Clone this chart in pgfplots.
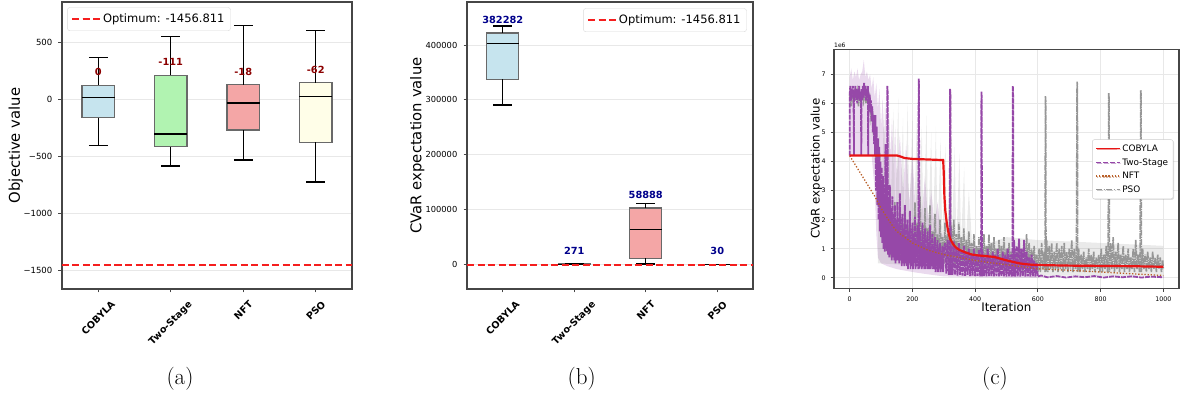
\documentclass[border=0pt]{standalone}
\usepackage{fontspec}
\usepackage{graphicx}
\usepackage{pgfplots}
\pgfplotsset{compat=1.18}
\usetikzlibrary{shadows}
\newfontfamily\dv{DejaVu Sans}

\definecolor{axcol}{RGB}{70,70,70}
\definecolor{gridc}{RGB}{232,232,232}
\definecolor{boxedge}{RGB}{105,105,105}
\definecolor{cblue}{RGB}{198,228,238}
\definecolor{cgreen}{RGB}{177,243,177}
\definecolor{ccoral}{RGB}{244,166,166}
\definecolor{cyellow}{RGB}{255,254,232}
\definecolor{optred}{RGB}{245,30,30}
\definecolor{dred}{RGB}{139,0,0}
\definecolor{dblue}{RGB}{0,0,139}
\definecolor{tsp}{RGB}{150,72,168}
\definecolor{nftc}{RGB}{185,95,40}
\definecolor{psog}{RGB}{150,150,150}
\definecolor{cobr}{RGB}{232,20,20}

\pgfplotsset{
  mplbase/.style={
    scale only axis,
    axis line style={axcol, line width=1.1pt},
    tick style={axcol, line width=0.8pt},
    tick align=outside,
    major tick length=3.5pt,
    xtick pos=left, ytick pos=left,
    grid style={gridc, line width=0.8pt},
    clip mode=individual,
  },
  boxab/.style={
    mplbase,
    xmin=0.5, xmax=4.5,
    xtick={1,2,3,4},
    xticklabels={\rotatebox{45}{COBYLA},\rotatebox{45}{Two-Stage},\rotatebox{45}{NFT},\rotatebox{45}{PSO}},
    xticklabel style={anchor=north, inner sep=0pt, yshift=-7.5pt, font={\dv\bfseries\fontsize{9.6}{11}\selectfont}},
    yticklabel style={anchor=east, inner sep=0pt, xshift=-6pt},
    ymajorgrids,
    ylabel style={font={\dv\fontsize{14.8}{17}\selectfont}, anchor=center},
    legend image code/.code={\draw[#1] (0pt,0pt) -- (23pt,0pt); \path (0pt,0pt) -- (28pt,0pt);},
    legend style={draw=gray!30, rounded corners=2.5pt, fill=white,
      font={\dv\fontsize{11.5}{13}\selectfont}, inner xsep=4pt, inner ysep=4.5pt},
  },
  bxbox/.style={forget plot, draw=boxedge, line width=1.2pt},
  bxwh/.style={forget plot, black, line width=1.2pt, unbounded coords=jump},
}

\begin{document}
\begin{tikzpicture}
\useasboundingbox (0,0) rectangle (1184pt,398pt);

% ---------------- (a) ----------------
\begin{axis}[boxab,
  at={(62pt,109pt)}, anchor=south west, width=290pt, height=287pt,
  ymin=-1665, ymax=855,
  ytick={-1500,-1000,-500,0,500},
  yticklabels={−1500,−1000,−500,0,500},
  yticklabel style={font={\dv\fontsize{8.5}{10}\selectfont}},
  ylabel={Objective value},
  ylabel style={at={(axis description cs:-0.159,0.5)}},
  legend style={at={(0.018,0.9815)}, anchor=north west},
]
% COBYLA
\addplot[bxbox, fill=cblue] coordinates {(0.775,-161)(1.225,-161)(1.225,125)(0.775,125)} -- cycle;
\addplot[bxwh] coordinates {(0.775,14)(1.225,14)(1,nan)(1,-161)(1,-404)(1,nan)(0.87,-404)(1.13,-404)(1,nan)(1,125)(1,368)(1,nan)(0.87,368)(1.13,368)};
% Two-Stage
\addplot[bxbox, fill=cgreen] coordinates {(1.775,-416)(2.225,-416)(2.225,210)(1.775,210)} -- cycle;
\addplot[bxwh] coordinates {(1.775,-304)(2.225,-304)(2,nan)(2,-416)(2,-585)(2,nan)(1.87,-585)(2.13,-585)(2,nan)(2,210)(2,549)(2,nan)(1.87,549)(2.13,549)};
% NFT
\addplot[bxbox, fill=ccoral] coordinates {(2.775,-269)(3.225,-269)(3.225,128)(2.775,128)} -- cycle;
\addplot[bxwh] coordinates {(2.775,-32)(3.225,-32)(3,nan)(3,-269)(3,-532)(3,nan)(2.87,-532)(3.13,-532)(3,nan)(3,128)(3,646)(3,nan)(2.87,646)(3.13,646)};
% PSO
\addplot[bxbox, fill=cyellow] coordinates {(3.775,-377)(4.225,-377)(4.225,146)(3.775,146)} -- cycle;
\addplot[bxwh] coordinates {(3.775,26)(4.225,26)(4,nan)(4,-377)(4,-725)(4,nan)(3.87,-725)(4.13,-725)(4,nan)(4,146)(4,608)(4,nan)(3.87,608)(4.13,608)};

\addplot[optred, line width=1.6pt, dash pattern=on 7pt off 3.5pt] coordinates {(0.5,-1456.811) (4.5,-1456.811)};
\addlegendentry{Optimum: -1456.811}
\node[font={\dv\bfseries\fontsize{9.8}{11}\selectfont}, text=dred] at (axis cs:1,242) {0};
\node[font={\dv\bfseries\fontsize{9.8}{11}\selectfont}, text=dred] at (axis cs:2,325) {-111};
\node[font={\dv\bfseries\fontsize{9.8}{11}\selectfont}, text=dred] at (axis cs:3,242) {-18};
\node[font={\dv\bfseries\fontsize{9.8}{11}\selectfont}, text=dred] at (axis cs:4,257) {-62};
\end{axis}

% ---------------- (b) ----------------
\begin{axis}[boxab,
  at={(467pt,109pt)}, anchor=south west, width=286pt, height=287pt,
  ymin=-45000, ymax=478600, scaled y ticks=false,
  ytick={0,100000,200000,300000,400000},
  yticklabels={0,100000,200000,300000,400000},
  yticklabel style={font={\dv\fontsize{8.3}{10}\selectfont}},
  ylabel={CVaR expectation value},
  ylabel style={at={(axis description cs:-0.174,0.5)}},
  legend style={at={(0.978,0.978)}, anchor=north east},
]
% COBYLA
\addplot[bxbox, fill=cblue] coordinates {(0.775,337590)(1.225,337590)(1.225,422080)(0.775,422080)} -- cycle;
\addplot[bxwh] coordinates {(0.775,402550)(1.225,402550)(1,nan)(1,337590)(1,290700)(1,nan)(0.87,290700)(1.13,290700)(1,nan)(1,422080)(1,434850)(1,nan)(0.87,434850)(1.13,434850)};
% Two-Stage
\addplot[bxbox, fill=cgreen] coordinates {(1.775,100)(2.225,100)(2.225,900)(1.775,900)} -- cycle;
\addplot[bxwh] coordinates {(1.775,300)(2.225,300)(2,nan)(1.87,0)(2.13,0)(2,nan)(1.87,1800)(2.13,1800)};
% NFT
\addplot[bxbox, fill=ccoral] coordinates {(2.775,10950)(3.225,10950)(3.225,102700)(2.775,102700)} -- cycle;
\addplot[bxwh] coordinates {(2.775,63870)(3.225,63870)(3,nan)(3,10950)(3,500)(3,nan)(2.87,500)(3.13,500)(3,nan)(3,102700)(3,111300)(3,nan)(2.87,111300)(3.13,111300)};
% PSO
\addplot[bxbox, fill=cyellow] coordinates {(3.775,5)(4.225,5)(4.225,60)(3.775,60)} -- cycle;
\addplot[bxwh] coordinates {(3.775,20)(4.225,20)(4,nan)(3.87,0)(4.13,0)(4,nan)(3.87,150)(4.13,150)};

\addplot[optred, line width=1.6pt, dash pattern=on 7pt off 3.5pt] coordinates {(0.5,-1456.811) (4.5,-1456.811)};
\addlegendentry{Optimum: -1456.811}
\node[font={\dv\bfseries\fontsize{9.8}{11}\selectfont}, text=dblue] at (axis cs:1,445260) {382282};
\node[font={\dv\bfseries\fontsize{9.8}{11}\selectfont}, text=dblue] at (axis cs:2,24820) {271};
\node[font={\dv\bfseries\fontsize{9.8}{11}\selectfont}, text=dblue] at (axis cs:3,126460) {58888};
\node[font={\dv\bfseries\fontsize{9.8}{11}\selectfont}, text=dblue] at (axis cs:4,24270) {30};
\end{axis}

% ---------------- (c) ----------------
\begin{axis}[mplbase,
  at={(834pt,109.7pt)}, anchor=south west, width=345pt, height=239pt,
  xmin=-50, xmax=1050, ymin=-0.36, ymax=7.86,
  xtick={0,200,400,600,800,1000}, xticklabels={0,200,400,600,800,1000},
  ytick={0,1,2,3,4,5,6,7}, yticklabels={0,1,2,3,4,5,6,7},
  xticklabel style={anchor=north, inner sep=0pt, yshift=-5pt, font={\dv\fontsize{6.3}{7.5}\selectfont}},
  yticklabel style={anchor=east, inner sep=0pt, xshift=-4.7pt, font={\dv\fontsize{6.3}{7.5}\selectfont}},
  grid=major,
  xlabel={Iteration},
  xlabel style={font={\dv\fontsize{11.8}{14}\selectfont}, at={(axis description cs:0.4994,-0.0795)}, anchor=center},
  ylabel={CVaR expectation value},
  ylabel style={font={\dv\fontsize{11.8}{14}\selectfont}, at={(axis description cs:-0.051,0.5)}, anchor=center},
  legend image code/.code={\draw[#1] (0pt,0pt) -- (20pt,0pt); \path (0pt,0pt) -- (23.5pt,0pt);},
  legend style={at={(0.9835,0.6226)}, anchor=north east, draw=gray!40, rounded corners=2pt, fill=white,
    font={\dv\fontsize{8.9}{10.5}\selectfont}, inner xsep=3pt, inner ysep=3pt, row sep=1.6pt,
    drop shadow={opacity=0.25, shadow xshift=1pt, shadow yshift=-1pt}},
  legend cell align=left,
]
\addlegendimage{cobr, line width=1.5pt}
\addlegendentry{COBYLA}
\addlegendimage{tsp, line width=1.5pt, dash pattern=on 5pt off 2pt}
\addlegendentry{Two-Stage}
\addlegendimage{nftc, line width=1.5pt, dash pattern=on 1.3pt off 1.8pt}
\addlegendentry{NFT}
\addlegendimage{psog, line width=1.5pt, dash pattern=on 6pt off 1.5pt on 1.3pt off 1.5pt}
\addlegendentry{PSO}

% light bands
\addplot[forget plot, fill=tsp, fill opacity=0.2, draw=none] coordinates {
(0,6.9)(5,7.2)(10,6.8)(15,7.1)(20,6.9)(25,7.2)(30,6.8)(35,7.0)(40,7.1)(45,7.5)(50,6.9)(55,7.1)(60,6.8)(65,7.0)(70,6.5)(75,6.9)(80,6.2)(85,6.7)(90,5.8)(95,6.5)(100,5.2)(105,6.2)(110,4.8)(115,6.0)(120,4.5)(125,5.8)(130,4.2)(135,5.5)(140,3.8)(145,5.2)(150,3.5)(160,4.9)(170,3.0)(180,4.6)(190,2.6)(200,4.2)(210,2.4)(220,4.0)(230,2.2)(240,3.5)(250,2.0)(260,3.0)(270,1.8)(280,2.6)(290,1.6)(300,1.4)(350,1.2)(400,1.1)(450,1.0)(500,1.0)(550,1.0)(600,0.6)(600,0.0)(400,0.02)(300,0.05)(250,0.12)(200,0.2)(150,0.3)(120,0.4)(100,0.5)(90,0.7)(85,1.5)(80,3.0)(70,4.2)(0,4.2)} -- cycle;
\addplot[forget plot, fill=psog, fill opacity=0.2, draw=none] coordinates {
(90,1.0)(95,5.5)(100,2.0)(110,6.0)(115,2.0)(125,6.3)(130,2.2)(140,5.8)(145,2.0)(155,6.2)(160,2.0)(170,5.5)(175,1.8)(185,6.0)(190,1.8)(200,5.6)(205,1.6)(215,5.8)(220,1.6)(230,5.2)(235,1.5)(245,5.6)(250,1.5)(260,5.0)(265,1.4)(275,5.2)(280,1.3)(290,4.8)(295,1.3)(305,4.6)(310,1.3)(320,4.0)(325,1.2)(335,4.5)(340,1.2)(350,4.3)(355,1.2)(365,3.8)(370,1.1)(380,3.0)(390,1.2)(400,1.0)(500,1.4)(600,1.3)(800,1.2)(1000,1.1)(1000,0.05)(600,0.08)(400,0.3)(90,0.5)} -- cycle;
\addplot[forget plot, fill=cobr, fill opacity=0.15, draw=none] coordinates {
(300,4.0)(305,2.3)(320,1.38)(350,0.99)(400,0.8)(460,0.75)(500,0.63)(560,0.5)(600,0.46)(600,0.3)(560,0.32)(500,0.4)(460,0.5)(400,0.55)(350,0.7)(320,1.0)(305,1.8)(300,3.5)} -- cycle;

% PSO
\addplot[forget plot, psog, line width=1.6pt, dash pattern=on 6pt off 1pt on 1.3pt off 1pt] coordinates {
(0,6.3)(4,5.9)(8,6.4)(12,6.0)(16,6.5)(20,6.1)(24,6.4)(28,5.9)(32,6.3)(36,6.0)(40,6.5)(44,6.1)(48,6.4)(52,6.0)(56,6.3)(60,5.8)(64,6.1)(68,5.5)(72,5.8)(76,4.9)(80,5.2)(84,3.8)(88,4.6)(92,2.5)(96,4.3)(100,1.5)(104,3.5)(108,1.2)(112,2.8)(116,0.9)(120,2.5)(124,0.8)(128,3.0)(132,0.7)(136,2.2)(140,0.8)(144,2.6)(148,0.6)(152,2.0)(156,0.7)(160,2.4)(164,0.6)(168,1.9)(172,0.8)(176,2.3)(180,0.6)(184,1.8)(188,0.7)(192,2.1)(196,0.6)
(200,1.7)(204,0.7)(208,2.6)(212,0.8)(216,1.9)(220,0.7)(224,2.8)(228,0.8)(232,1.8)(236,0.6)(240,2.4)(244,0.7)(248,1.7)(252,0.6)(256,2.5)(260,0.7)(264,1.6)(268,0.6)(272,2.2)(276,0.7)(280,1.5)(284,0.5)(288,2.0)(292,0.6)(296,1.4)(300,0.5)(304,1.9)(308,0.5)(312,1.5)(316,0.4)(319,1.2)(320,6.5)(321,6.3)(322,0.4)(324,1.8)(328,0.5)(332,2.0)(336,0.4)(340,1.5)(344,0.5)(348,1.9)(352,0.4)(356,1.4)(360,0.5)(364,1.7)(368,0.4)(372,1.3)(376,0.5)(380,1.6)(384,0.4)(388,1.2)(392,0.4)(396,1.5)
(400,0.4)(404,1.1)(408,0.3)(412,1.4)(416,0.4)(420,1.2)(424,0.3)(428,1.5)(432,0.4)(436,1.1)(440,0.3)(444,1.5)(448,0.4)(452,1.2)(456,0.3)(460,1.4)(464,0.4)(468,1.0)(472,0.3)(476,1.3)(480,0.4)(484,1.1)(488,0.3)(492,1.4)(496,0.3)(500,1.0)(504,0.3)(508,1.2)(512,0.4)(516,0.9)(520,0.3)(524,1.1)(528,0.3)(532,0.9)(536,0.3)(540,1.2)(544,0.3)(548,0.9)(552,0.2)(556,1.1)(560,0.3)(564,1.5)(568,0.2)(572,1.2)(576,0.3)(580,1.0)(584,0.2)(588,1.1)(592,0.3)(596,0.8)
(600,0.2)(604,1.0)(608,0.2)(612,1.2)(616,0.3)(620,0.9)(623,0.2)(624,6.25)(625,6.1)(626,0.2)(628,1.3)(632,0.2)(636,1.1)(640,0.3)(644,1.2)(648,0.2)(652,0.9)(656,0.3)(660,1.2)(664,0.2)(668,1.0)(672,0.3)(676,1.1)(680,0.2)(684,1.2)(688,0.3)(692,0.9)(696,0.2)(700,1.0)(704,0.3)(708,1.3)(712,0.2)(716,1.0)(720,0.3)(723,0.9)(725,6.75)(726,6.6)(727,0.2)(730,1.0)(734,0.2)(738,0.8)(742,0.3)(746,0.9)(750,0.2)(754,0.7)(758,0.3)(762,1.0)(766,0.2)(770,0.8)(774,0.3)(778,0.9)(782,0.2)(786,0.7)(790,0.3)(794,0.8)(798,0.2)
(802,1.0)(806,0.2)(810,0.8)(814,0.3)(818,1.1)(822,0.2)(824,0.8)(826,6.35)(827,6.2)(828,0.2)(832,1.2)(836,0.3)(840,1.4)(844,0.2)(848,0.9)(852,0.3)(856,1.2)(860,0.2)(864,0.8)(868,0.3)(872,1.1)(876,0.2)(880,0.8)(884,0.3)(888,1.0)(892,0.2)(896,0.7)(900,0.3)(904,1.0)(908,0.2)(912,1.3)(916,0.3)(920,0.8)(924,0.2)(926,0.9)(928,6.45)(929,6.3)(930,0.2)(934,1.0)(938,0.3)(942,0.8)(946,0.2)(950,0.9)(954,0.3)(958,0.7)(962,0.2)(966,0.9)(970,0.3)(974,0.7)(978,0.2)(982,0.8)(986,0.3)(990,0.7)(994,0.2)(998,0.6)(1000,0.3)};

% Two-Stage
\addplot[forget plot, tsp, line width=1.8pt, dash pattern=on 5pt off 1pt] coordinates {
(0,4.2)(0,6.3)(2,6.6)(4,6.1)(6,6.5)(8,6.2)(10,6.6)(12,6.3)(14,4.2)(14,6.4)(16,6.1)(18,6.6)(20,6.2)(22,6.5)(24,6.0)(26,6.4)(28,6.2)(30,6.6)(32,6.1)(34,6.4)(36,6.0)(37,4.2)(38,6.5)(40,6.1)(42,6.6)(44,6.2)(46,6.7)(48,6.3)(50,6.6)(52,6.1)(54,6.5)(56,6.2)(58,6.6)(59,4.2)(60,6.4)(62,6.0)(64,6.3)(66,5.7)(68,6.1)(70,5.4)(72,5.9)(74,5.0)(76,5.6)(78,4.6)(80,5.3)(81,4.2)(82,5.6)(84,3.0)(86,5.2)(88,2.5)(90,4.8)(92,2.0)(94,4.5)(96,1.6)(98,4.0)(100,1.4)(102,3.8)(104,1.2)(106,3.5)(108,1.0)(110,3.2)(112,0.9)(114,4.6)(116,1.0)(118,2.8)(119,0.9)(120,6.6)(121,6.4)(122,0.8)(124,2.6)(126,0.7)(128,3.2)(130,0.8)(132,2.4)(134,0.6)(136,2.8)(138,0.7)(140,2.2)(142,0.6)(144,2.5)(146,0.5)(148,2.0)(150,0.6)
(152,2.6)(154,0.6)(156,1.8)(158,0.5)(160,2.9)(162,0.6)(164,1.5)(166,0.4)(168,2.2)(170,0.5)(172,1.7)(174,0.4)(176,2.5)(178,0.5)(180,1.4)(182,0.4)(184,2.0)(186,0.3)(188,1.6)(190,0.5)(192,2.3)(194,0.3)(196,1.3)(198,0.4)(200,1.9)(202,0.3)(204,1.5)(206,0.5)(208,2.1)(210,0.3)(212,1.2)(214,0.4)(216,1.8)(219,0.3)(220,6.85)(221,6.7)(222,0.3)(224,1.6)(226,0.4)(228,1.1)(230,0.3)(232,1.9)(234,0.4)(236,1.3)(238,0.3)(240,1.7)(242,0.3)(244,1.0)(246,0.4)(248,1.6)(250,0.3)(252,1.2)(254,0.3)(256,1.8)(258,0.3)(260,1.0)(262,0.4)(264,1.5)(266,0.3)(268,1.1)(270,0.3)(272,1.4)(274,0.2)(276,0.9)(278,0.3)(280,1.3)(282,0.2)(284,1.0)(286,0.3)(288,1.2)(290,0.2)(292,0.8)(294,0.3)(296,1.1)(298,0.2)(300,0.9)
(304,1.2)(308,0.15)(312,1.3)(316,0.1)(319,1.0)(320,6.5)(321,6.3)(322,0.1)(324,1.1)(328,0.1)(332,1.25)(336,0.1)(340,1.0)(344,0.08)(348,1.2)(352,0.1)(356,0.9)(360,0.08)(364,1.1)(368,0.07)(372,0.9)(376,0.1)(380,1.0)(384,0.06)(388,0.8)(392,0.08)(396,1.0)(400,0.06)(404,0.8)(408,0.07)(412,0.95)(416,0.05)(419,0.8)(420,6.4)(421,6.2)(422,0.05)(424,0.9)(428,0.06)(432,0.8)(436,0.05)(440,1.0)(444,0.06)(448,0.75)(452,0.05)(456,0.9)(460,0.05)(464,0.8)(468,0.06)(472,1.0)(476,0.05)(480,0.7)(484,0.05)(488,0.9)(492,0.05)(496,0.8)(500,0.04)(504,1.0)(508,0.05)(512,0.8)(516,0.04)(519,0.9)(520,6.6)(521,6.4)(522,0.05)(524,1.3)(528,0.04)(532,1.1)(536,0.05)(540,1.35)(544,0.04)(548,1.0)(552,0.05)(556,1.3)(560,0.04)(564,0.9)(568,0.05)(572,0.7)(576,0.04)(580,0.8)(584,0.05)(588,0.6)(592,0.04)(596,0.5)(600,0.04)
(610,0.08)(630,0.02)(660,0.06)(690,0.01)(720,0.05)(750,0.02)(780,0.06)(810,0.01)(840,0.05)(870,0.02)(900,0.05)(930,0.01)(960,0.04)(1000,0.02)};

% NFT
\addplot[forget plot, nftc, line width=1.3pt, dash pattern=on 1.3pt off 1.8pt] coordinates {
(0,4.2)(20,3.85)(40,3.5)(60,3.15)(80,2.8)(100,2.4)(128,1.92)(150,1.6)(200,1.2)(250,0.95)(300,0.8)(350,0.7)(400,0.6)(450,0.52)(500,0.45)(550,0.38)(600,0.31)(700,0.26)(800,0.2)(900,0.14)(1000,0.08)};

% COBYLA
\addplot[forget plot, cobr, line width=2.2pt] coordinates {
(0,4.21)(150,4.21)(160,4.18)(175,4.12)(200,4.09)(250,4.07)(298,4.05)(300,3.6)(302,2.8)(305,2.3)(310,1.85)(315,1.55)(320,1.35)(330,1.15)(340,1.03)(350,0.96)(370,0.87)(390,0.8)(410,0.77)(440,0.74)(460,0.72)(480,0.66)(500,0.6)(520,0.55)(540,0.5)(560,0.47)(580,0.45)(600,0.44)(650,0.43)(700,0.42)(800,0.41)(900,0.4)(1000,0.38)};

\node[anchor=south west, inner sep=0pt, font={\dv\fontsize{6}{7}\selectfont}] at (rel axis cs:0,1) [yshift=1.5pt] {1e6};
\end{axis}

\node[font=\fontsize{23}{26}\selectfont] at (180pt,19pt) {(a)};
\node[font=\fontsize{23}{26}\selectfont] at (581.7pt,19pt) {(b)};
\node[font=\fontsize{23}{26}\selectfont] at (995pt,19pt) {(c)};
\end{tikzpicture}
\end{document}
